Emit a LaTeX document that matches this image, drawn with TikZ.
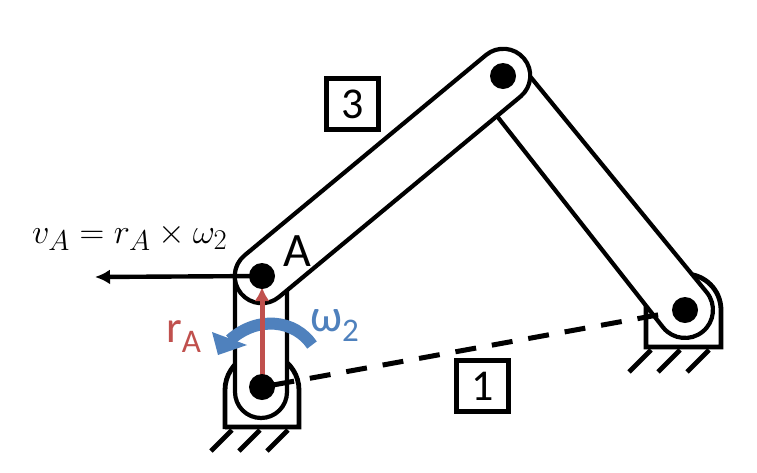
\documentclass[tikz,border=0pt]{standalone}
\usepackage{fontspec}
\usepackage{graphicx}
\setmainfont{Carlito}
\usetikzlibrary{arrows.meta,calc}
\definecolor{redA}{HTML}{C0504D}
\definecolor{blueW}{HTML}{4F81BD}
\tikzset{
  linkbar/.style={draw=black,fill=white,line width=4.2pt,line join=round},
  groundline/.style={draw=black,line width=4.8pt,line join=miter},
  hatchline/.style={draw=black,line width=4.8pt},
  pin/.style={circle,fill=black,inner sep=0pt,minimum size=26pt},
  numbox/.style={draw=black,fill=white,line width=4.2pt,minimum width=52pt,minimum height=51pt,inner sep=0pt,font=\fontsize{44}{44}\selectfont},
  lbl/.style={inner sep=0pt,anchor=base west}
}
\begin{document}
\begin{tikzpicture}[x=1pt,y=-1pt]
\useasboundingbox (0,0) rectangle (757,472);
% left ground
\draw[groundline] (225,427) -- (299,427) -- (299,390) arc[start angle=0,end angle=-65,radius=37];
\draw[groundline] (225,429) -- (225,390) arc[start angle=180,end angle=245,radius=37];
\foreach \a in {232,260,288} \draw[hatchline] (\a,430) -- ++(-21,21);
% right ground
\draw[groundline] (646,303) -- (646,347) -- (721,347) -- (721,310) arc[start angle=0,end angle=-90,radius=36];
\foreach \a in {651,680,709} \draw[hatchline] (\a,350) -- ++(-22,22);
% link 4
\filldraw[linkbar] (493,111) -- (663.3,327.7) arc[start angle=140.7,end angle=-39.3,radius=28] -- (522,66.5) -- cycle;
% link 2
\filldraw[linkbar] (235,276) arc[start angle=180,end angle=360,radius=26] -- (287,392) arc[start angle=0,end angle=180,radius=26] -- cycle;
% link 3
\filldraw[linkbar] (245,255) -- (486,55) arc[start angle=230.3,end angle=410.3,radius=27] -- (279,297) arc[start angle=50.3,end angle=230.3,radius=27] -- cycle;
% blue arrow
\draw[blueW,line width=12pt] (312,345) .. controls (295,320) and (258,315) .. (230,340);
\fill[blueW] (212,332) -- (247,345) -- (218,355) -- cycle;
% pin coordinates for connectors
\coordinate (O2c) at (262,387);
\coordinate (Ac) at (262,276);
\coordinate (O4c) at (685,310);
\coordinate (vtip) at (95,277);
\coordinate (rtip) at (262,287);
% ground line
\draw[line width=5pt,dash pattern=on 21pt off 16pt,dash phase=25.4pt] (O2c) -- (O4c);
% vA arrow
\draw[line width=4.4pt,-{Latex[length=15pt,width=15pt]}] (Ac) -- (vtip);
% rA arrow
\draw[redA,line width=5pt,-{Latex[length=14pt,width=15pt]}] (O2c) -- (rtip);
% pins
\node[pin] (O2) at (O2c) {};
\node[pin] (Apin) at (Ac) {};
\node[pin] (B) at (503,76) {};
\node[pin] (O4) at (O4c) {};
% boxes
\node[numbox] (n3) at (352.5,104) {3};
\node[numbox] (n1) at (482.5,386) {1};
% labels
\node[lbl] (lA) at (283,266) {\fontsize{48}{48}\selectfont A};
\node[lbl] (lv) at (32,243) {\scalebox{1.38}{\fontsize{24.88}{30}\selectfont $v_A = r_A \times \omega_2$}};
\node[lbl,text=redA] (lr) at (166,342) {\fontsize{45}{45}\selectfont r\raisebox{-10pt}{\fontsize{33}{33}\selectfont A}};
\node[lbl,text=blueW] (lw) at (310,331) {\fontsize{46}{46}\selectfont ω\raisebox{-10pt}{\fontsize{33}{33}\selectfont 2}};
\end{tikzpicture}
\end{document}
